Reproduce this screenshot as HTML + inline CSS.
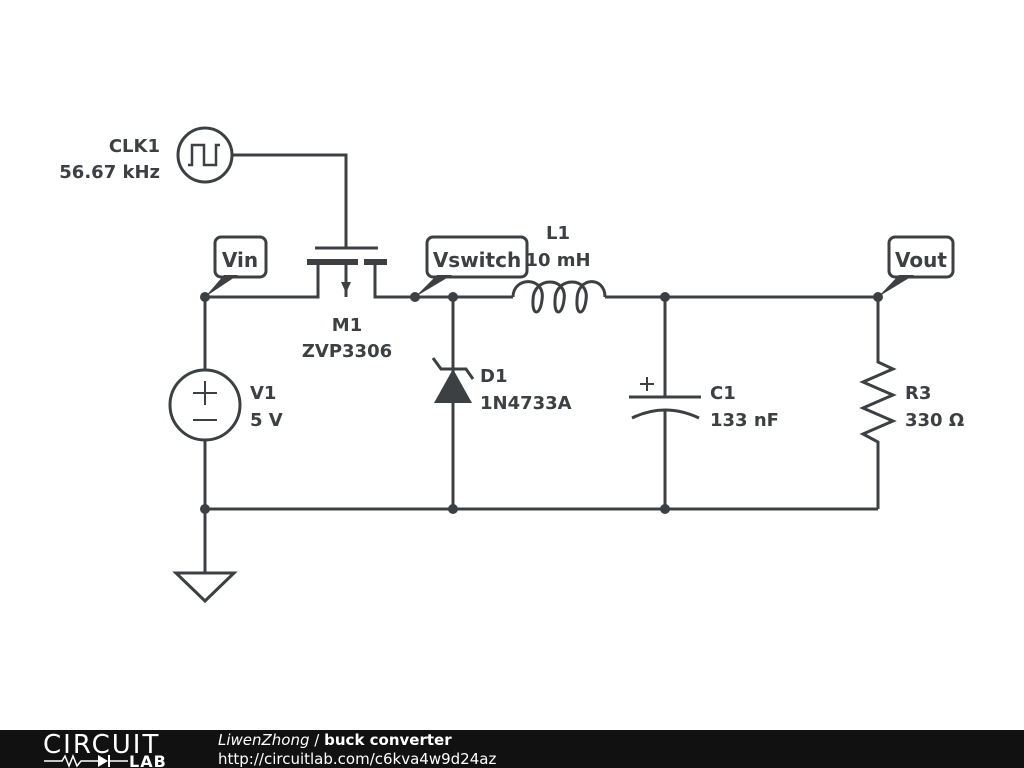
<!DOCTYPE html>
<html><head><meta charset="utf-8"><style>
html,body{margin:0;padding:0;background:#fff;}
svg{display:block}
text{font-family:"DejaVu Sans","Liberation Sans",sans-serif;font-weight:bold;font-size:18px;fill:#3c4043}
</style></head><body>
<svg width="1024" height="768" viewBox="0 0 1024 768">
<g stroke="#3c4043" stroke-width="3" fill="none">
<polyline points="205,297 318,297 318,262"/>
<polyline points="375,262 375,297 513,297"/>
<line x1="346" y1="262" x2="346" y2="297"/>
<line x1="605" y1="297" x2="878" y2="297"/>
<line x1="205" y1="509" x2="878" y2="509"/>
<line x1="205" y1="297" x2="205" y2="370"/>
<line x1="205" y1="440" x2="205" y2="573"/>
<circle cx="205" cy="405" r="35"/>
<polygon points="176,573 234,573 205,601"/>
<circle cx="205" cy="155" r="27"/>
<polyline points="188,165 192,165 192,145 204,145 204,165 216,165 216,145 220,145" stroke-width="2.5"/>
<polyline points="232,155 346,155 346,248"/>
<line x1="315" y1="248" x2="378" y2="248"/>
<line x1="453" y1="297" x2="453" y2="509"/>
<polyline points="433,358 441,369 466,369 473,379"/>
<line x1="665" y1="297" x2="665" y2="397"/>
<line x1="665" y1="410" x2="665" y2="509"/>
<line x1="629" y1="397" x2="701" y2="397"/>
<path d="M632,418 Q665,402 699,418"/>
<line x1="640" y1="384" x2="654" y2="384" stroke-width="2"/>
<line x1="647" y1="377" x2="647" y2="391" stroke-width="2"/>
<path d="M513,297 C513,276 546,276 542,300 C540,316 532,316 533,300 C533,276 568,276 564,300 C562,316 554,316 555,300 C555,276 590,276 586,300 C584,316 576,316 577,300 C577,276 605,276 605,297"/>
<polyline points="878,297 878,362 893,369 863,382 893,395 863,408 893,421 863,434 878,442 878,509"/>
<line x1="193" y1="393" x2="217" y2="393" stroke-width="2"/>
<line x1="205" y1="381" x2="205" y2="405" stroke-width="2"/>
<line x1="193" y1="420" x2="217" y2="420" stroke-width="2"/>
<rect x="215" y="237" width="51" height="40" rx="6" fill="#fff"/>
<rect x="427" y="237" width="100" height="40" rx="6" fill="#fff"/>
<rect x="889" y="237" width="64" height="40" rx="6" fill="#fff"/>
</g>
<g fill="#3c4043">
<rect x="307" y="259" width="31" height="6"/>
<rect x="336" y="259" width="22" height="6"/>
<rect x="364" y="259" width="23" height="6"/>
<polygon points="341,282 351,282 346,293"/>
<polygon points="453,369 434,403 472,403"/>
<circle cx="205" cy="297" r="5"/><circle cx="415" cy="297" r="5"/><circle cx="453" cy="297" r="5"/>
<circle cx="665" cy="297" r="5"/><circle cx="878" cy="297" r="5"/>
<circle cx="205" cy="509" r="5"/><circle cx="453" cy="509" r="5"/><circle cx="665" cy="509" r="5"/>
<polygon points="205,297 224,275 238,275"/>
<polygon points="415,297 437,275 452,275"/>
<polygon points="878,297 899,275 914,275"/>
</g>
<text x="240" y="267" text-anchor="middle" style="font-size:20px">Vin</text>
<text x="477" y="267" text-anchor="middle" style="font-size:20px">Vswitch</text>
<text x="921" y="267" text-anchor="middle" style="font-size:20px">Vout</text>
<text x="160" y="152" text-anchor="end">CLK1</text>
<text x="160" y="178" text-anchor="end">56.67 kHz</text>
<text x="347" y="331" text-anchor="middle">M1</text>
<text x="347" y="357" text-anchor="middle">ZVP3306</text>
<text x="250" y="399">V1</text>
<text x="250" y="426">5 V</text>
<text x="480" y="382">D1</text>
<text x="480" y="409">1N4733A</text>
<text x="558" y="239" text-anchor="middle">L1</text>
<text x="558" y="266" text-anchor="middle">10 mH</text>
<text x="710" y="399">C1</text>
<text x="710" y="426">133 nF</text>
<text x="905" y="399">R3</text>
<text x="905" y="426">330 Ω</text>
<rect x="0" y="730" width="1024" height="38" fill="#111"/>
<text x="43" y="753" style="font-family:'DejaVu Sans',sans-serif;font-weight:normal;font-size:26px;fill:#fff;letter-spacing:2px">CIRCUIT</text>
<polyline points="44,761 62,761 65,756 69,766 73,756 77,766 81,761 98,761" stroke="#fff" stroke-width="1.5" fill="none"/>
<polygon points="98,755 98,767 108,761" fill="#fff"/>
<line x1="109" y1="755" x2="109" y2="767" stroke="#fff" stroke-width="2"/>
<line x1="109" y1="761" x2="128" y2="761" stroke="#fff" stroke-width="1.5"/>
<text x="129" y="767" style="font-size:16px;fill:#fff;letter-spacing:1px">LAB</text>
<text x="218" y="745" style="font-size:15px;fill:#fff;font-weight:normal;font-style:italic">LiwenZhong <tspan style="font-style:normal">/</tspan> <tspan style="font-style:normal;font-weight:bold">buck converter</tspan></text>
<text x="218" y="764" style="font-size:15px;fill:#fff;font-weight:normal">http://circuitlab.com/c6kva4w9d24az</text>
</svg>
</body></html>
